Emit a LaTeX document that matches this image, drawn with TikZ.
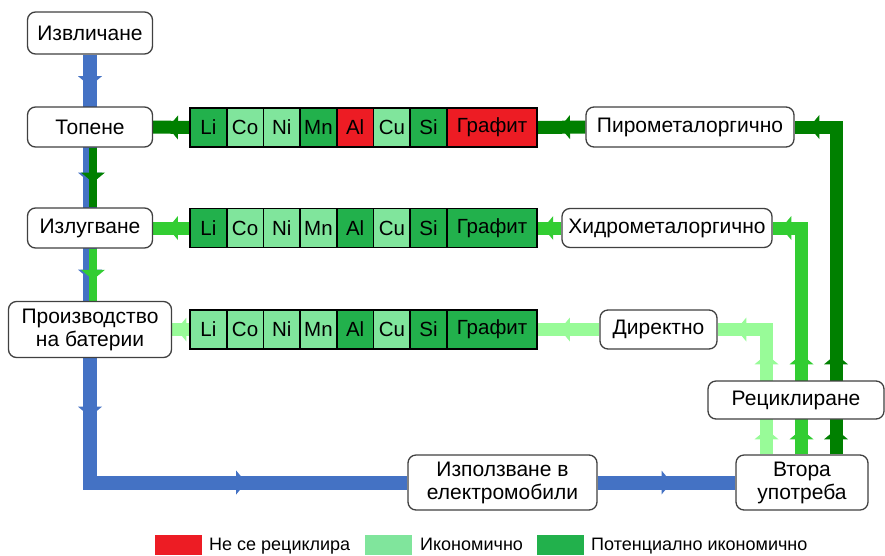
\documentclass[tikz,border=0pt]{standalone}
\usepackage{fontspec}
\setmainfont{Liberation Sans}
\usetikzlibrary{backgrounds,decorations.markings}

\definecolor{flowblue}{HTML}{4472C4}
\definecolor{pyrogreen}{HTML}{008000}
\definecolor{hydrogreen}{HTML}{32CD32}
\definecolor{directgreen}{HTML}{98FB98}
\definecolor{cellred}{HTML}{ED1C24}
\definecolor{celldark}{HTML}{22B14C}
\definecolor{celllight}{HTML}{80E59C}
\definecolor{boxedge}{HTML}{404040}

% filled triangle placed on a flow line, pointing along the line
\newcommand{\flowtip}[1]{\fill[#1] (5,0) -- (-5,12) -- (-5,-12) -- cycle;}

\tikzset{
  stage/.style={draw=boxedge, line width=1.3pt, rounded corners=8pt, fill=white,
    align=center, inner sep=0pt, font=\fontsize{21}{23}\selectfont},
  cell/.style={draw=black, line width=1.8pt, minimum height=39pt, inner sep=0pt,
    font=\fontsize{20.5}{22}\selectfont},
  swatch/.style={inner sep=0pt, minimum width=47pt, minimum height=20pt},
  legendtext/.style={anchor=base west, inner sep=0pt, font=\fontsize{18}{20}\selectfont},
  flow/.style={line width=#1, line join=miter},
  tipat/.style args={#1 in #2}{postaction={decorate,
    decoration={markings, mark=at position #1 with {\flowtip{#2}}}}},
}

\begin{document}
\begin{tikzpicture}[x=1pt, y=-1pt]
\useasboundingbox (0,0) rectangle (885,555);

% process stages
\node[stage, minimum width=125pt, minimum height=42pt] (ext)   at (90,33)    {Извличане};
\node[stage, minimum width=125pt, minimum height=40pt] (top)   at (90,127)   {Топене};
\node[stage, minimum width=125pt, minimum height=40pt] (leach) at (90,228)   {Излугване};
\node[stage, minimum width=163pt, minimum height=56pt] (prod)  at (90,329.5) {Производство\\на батерии};
\node[stage, minimum width=189pt, minimum height=55pt] (use)   at (502.5,482.5) {Използване в\\електромобили};
\node[stage, minimum width=132pt, minimum height=55pt] (second) at (802,482.5) {Втора\\употреба};
\node[stage, minimum width=176pt, minimum height=38pt] (recyc) at (796,400)  {Рециклиране};
\node[stage, minimum width=208pt, minimum height=40pt] (pyro)  at (690,127)  {Пирометалоргично};
\node[stage, minimum width=210pt, minimum height=39pt] (hydro) at (667,228)  {Хидрометалоргично};
\node[stage, minimum width=117pt, minimum height=39pt] (direct) at (658.5,329.5) {Директно};

% element rows: pyrometallurgy, hydrometallurgy, direct
\foreach \lab/\ca/\cb/\cc [count=\i] in {
    Li/celldark/celldark/celllight,
    Co/celllight/celllight/celllight,
    Ni/celllight/celllight/celllight,
    Mn/celldark/celllight/celllight,
    Al/cellred/celldark/celldark,
    Cu/celllight/celllight/celllight,
    Si/celldark/celldark/celldark}{
  \node[cell, minimum width=36.7pt, fill=\ca] (r1c\i) at (171.65+36.7*\i,127.5) {\lab};
  \node[cell, minimum width=36.7pt, fill=\cb] (r2c\i) at (171.65+36.7*\i,228)   {\lab};
  \node[cell, minimum width=36.7pt, fill=\cc] (r3c\i) at (171.65+36.7*\i,329.5) {\lab};
}
\node[cell, minimum width=90pt, fill=cellred]  (r1c8) at (492,127.5) {Графит};
\node[cell, minimum width=90pt, fill=celldark] (r2c8) at (492,228)   {Графит};
\node[cell, minimum width=90pt, fill=celldark] (r3c8) at (492,329.5) {Графит};

% legend
\node[swatch, fill=cellred]   (lg1) at (178,545)   {};
\node[legendtext] (lt1) at (209,550) {Не се рециклира};
\node[swatch, fill=celllight] (lg2) at (388.5,545) {};
\node[legendtext] (lt2) at (420,550) {Икономично};
\node[swatch, fill=celldark]  (lg3) at (560.5,545) {};
\node[legendtext] (lt3) at (591,550) {Потенциално икономично};

% bend points of the flow lines
\coordinate (bc)  at (90,482.5);
\coordinate (gx)  at (93,0);
\coordinate (dgx) at (836,0);
\coordinate (hgx) at (801.5,0);
\coordinate (pgx) at (766.5,0);

\begin{pgfonlayer}{background}
% material flow
\draw[flow=14pt, flowblue, tipat={26.5pt in flowblue}, tipat={123pt in flowblue},
      tipat={220pt in flowblue}, tipat={357pt in flowblue}, tipat={579pt in flowblue}]
  (ext.south) -- (bc) -- (use.west);
\draw[flow=14pt, flowblue, tipat={0.5 in flowblue}] (use.east) -- (second.west);

% pyrometallurgical route
\draw[flow=13pt, pyrogreen, tipat={20pt in pyrogreen}, tipat={95pt in pyrogreen},
      tipat={349pt in pyrogreen}]
  (second.north -| dgx) -- (dgx |- pyro.east) -- (pyro.east);
\draw[flow=13pt, pyrogreen, tipat={0.43 in pyrogreen}] (pyro.west) -- (r1c8.east);
\draw[flow=13pt, pyrogreen, tipat={0.45 in pyrogreen}] (r1c1.west) -- (top.east);
\draw[flow=8pt, pyrogreen, tipat={0.5 in pyrogreen}] (top.south -| gx) -- (leach.north -| gx);

% hydrometallurgical route
\draw[flow=13pt, hydrogreen, tipat={20pt in hydrogreen}, tipat={95pt in hydrogreen},
      tipat={241.5pt in hydrogreen}]
  (second.north -| hgx) -- (hgx |- hydro.east) -- (hydro.east);
\draw[flow=13pt, hydrogreen, tipat={0.56 in hydrogreen}] (hydro.west) -- (r2c8.east);
\draw[flow=13pt, hydrogreen, tipat={0.45 in hydrogreen}] (r2c1.west) -- (leach.east);
\draw[flow=8pt, hydrogreen, tipat={0.5 in hydrogreen}] (leach.south -| gx) -- (prod.north -| gx);

% direct recycling route
\draw[flow=13pt, directgreen, tipat={20pt in directgreen}, tipat={95pt in directgreen},
      tipat={150pt in directgreen}]
  (second.north -| pgx) -- (pgx |- direct.east) -- (direct.east);
\draw[flow=13pt, directgreen, tipat={0.56 in directgreen}] (direct.west) -- (r3c8.east);
\draw[flow=13pt, directgreen, tipat={0.45 in directgreen}] (r3c1.west) -- (prod.east);
\end{pgfonlayer}
\end{tikzpicture}
\end{document}
